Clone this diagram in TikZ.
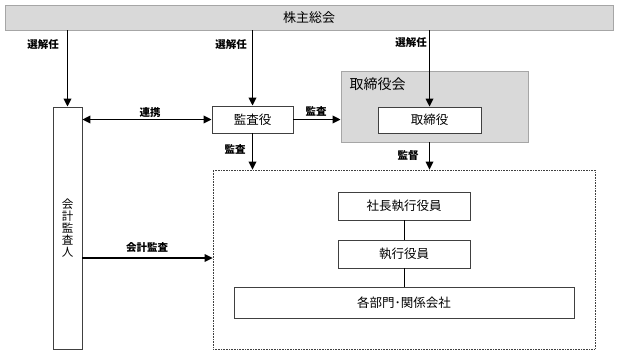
\documentclass[tikz,border=0pt]{standalone}
\usepackage{fontspec}
\setmainfont{Noto Sans CJK JP}
\usepackage{tikz}
\usetikzlibrary{arrows.meta,positioning}
\definecolor{boxgray}{HTML}{D9D9D9}
\definecolor{edgegray}{HTML}{A6A6A6}
\definecolor{linegray}{HTML}{404040}

\begin{document}
\begin{tikzpicture}[x=1pt,y=-1pt,>={Triangle[length=8pt,width=7.5pt]},
  orgbox/.style={draw=linegray,line width=.8pt,fill=white,inner sep=0pt,font=\fontsize{12.5}{14}\selectfont},
  graybox/.style={draw=edgegray,line width=.8pt,fill=boxgray,inner sep=0pt},
  lbl/.style={font=\fontsize{10.5}{12}\selectfont\bfseries},
  arr/.style={->,line width=1.7pt}]
  \useasboundingbox (0,0) rectangle (617,354);
  % shareholders' meeting
  \node[graybox,minimum width=608pt,minimum height=25pt,font=\fontsize{13}{15}\selectfont] (soukai) at (309,17.5) {株主総会};
  % board of directors
  \node[graybox,minimum width=187pt,minimum height=71pt] (torikai) at (434.5,106.5) {};
  \node[anchor=west,font=\fontsize{14}{16}\selectfont] (torikaitext) at (346,84) {取締役会};
  \node[orgbox,minimum width=103pt,minimum height=26pt] (torishimari) at (429.5,120) {取締役};
  \node[orgbox,minimum width=81pt,minimum height=27pt] (kansayaku) at (252.5,119.5) {監査役};
  \node[orgbox,minimum width=29pt,minimum height=242pt,align=center,
        font=\fontsize{11.5}{12}\selectfont] (kansanin) at (67.5,228) {会\\計\\監\\査\\人};
  % execution area
  \node[draw=linegray,densely dotted,line width=.6pt,minimum width=382pt,minimum height=179pt] (area) at (404,259.5) {};
  \node[orgbox,minimum width=132pt,minimum height=28pt] (shachou) at (404,206) {社長執行役員};
  \node[orgbox,minimum width=132pt,minimum height=28pt] (yakuin) at (404,254) {執行役員};
  \node[orgbox,minimum width=340pt,minimum height=31pt] (kakubu) at (404,302.5) {各部門･関係会社};
  \coordinate (kaikeiy) at (0,258);
  % connectors
  \draw[arr] (kansanin.north |- soukai.south) -- (kansanin.north);
  \draw[arr] (kansayaku.north |- soukai.south) -- (kansayaku.north);
  \draw[arr] (torishimari.north |- soukai.south) -- (torishimari.north);
  \draw[arr,<->] (kansanin.east |- kansayaku.west) -- (kansayaku.west);
  \draw[arr] (kansayaku.east) -- (torikai.west |- kansayaku.east);
  \draw[arr] (kansayaku.south) -- (kansayaku.south |- area.north);
  \draw[arr] (torishimari.south |- torikai.south) -- (torishimari.south |- area.north);
  \draw[arr] (kansanin.east |- kaikeiy) -- (area.west |- kaikeiy);
  \draw[line width=.8pt] (shachou.south) -- (yakuin.north);
  \draw[line width=.8pt] (yakuin.south) -- (kakubu.north);
  % labels
  \node[lbl] (sen1) at (43,45) {選解任};
  \node[lbl] (sen2) at (231,45) {選解任};
  \node[lbl] (sen3) at (411,43) {選解任};
  \node[lbl] (renkei) at (150,113) {連携};
  \node[lbl] (kansa1) at (316,111) {監査};
  \node[lbl] (kansa2) at (235,149) {監査};
  \node[lbl] (kantoku) at (408,156) {監督};
  \node[lbl] (kaikei) at (147,248) {会計監査};
\end{tikzpicture}
\end{document}
